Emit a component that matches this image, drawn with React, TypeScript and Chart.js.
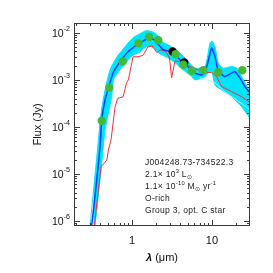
import React, { useEffect, useRef } from "react";
import { Chart, registerables } from "chart.js";

Chart.register(...registerables);

// ---- axis ranges ----
const X_MIN = 0.188;
const X_MAX = 29.9;
const Y_MIN = 7.8e-7;
const Y_MAX = 1.61e-2;

// ---- best-fit model (blue) ----
const bestLambda = [0.3, 0.313, 0.362, 0.398, 0.418, 0.46, 0.506, 0.579, 0.708, 0.891, 1.122, 1.296, 1.527, 1.763, 1.94, 2.239, 2.461, 2.985, 3.62, 4.38, 5.57, 6.13, 7.44, 8.18, 8.84, 9.91, 10.9, 12.0, 14.5, 17.6, 19.4, 22.4, 25.9, 29.9];
const bestFlux = [4.2e-7, 8.05e-7, 7.35e-6, 3.77e-5, 1.4e-4, 3.73e-4, 6.62e-4, 1.4e-3, 2.41e-3, 3.94e-3, 5.41e-3, 6.27e-3, 7.34e-3, 7.44e-3, 6.86e-3, 5.1e-3, 4.35e-3, 3.99e-3, 3.13e-3, 2.26e-3, 1.63e-3, 1.38e-3, 1.27e-3, 1.43e-3, 2.26e-3, 4.72e-3, 3.13e-3, 1.5e-3, 1.17e-3, 1.38e-3, 1.5e-3, 1.08e-3, 7.16e-4, 5.18e-4];

// ---- family of acceptable models (cyan band envelope) ----
const bandUpperLambda = [0.285, 0.299, 0.373, 0.41, 0.46, 0.531, 0.649, 0.818, 1.029, 1.259, 1.496, 1.778, 2.054, 2.371, 2.985, 3.65, 4.6, 6.13, 8.18, 9.44, 10.0, 10.9, 12.0, 13.8, 17.6, 20.4, 23.5, 29.9];
const bandUpperFlux = [4e-7, 8.05e-7, 3.77e-5, 1.97e-4, 6.1e-4, 1.63e-3, 3.08e-3, 5.03e-3, 7.82e-3, 9.53e-3, 1.1e-2, 1.05e-2, 9.06e-3, 6.43e-3, 5.28e-3, 4.13e-3, 2.93e-3, 1.77e-3, 1.91e-3, 6.03e-3, 6.59e-3, 5.1e-3, 2.26e-3, 1.77e-3, 1.91e-3, 1.77e-3, 1.17e-3, 5.6e-4];
const bandLowerLambda = [0.33, 0.345, 0.418, 0.46, 0.557, 0.584, 0.708, 0.818, 1.0, 1.259, 1.54, 1.83, 2.239, 2.818, 3.45, 4.34, 5.47, 6.13, 8.18, 9.18, 10.0, 10.9, 13.2, 17.6, 23.5, 29.9];
const bandLowerFlux = [4e-7, 8.05e-7, 1.67e-5, 8.55e-5, 4.38e-4, 9.95e-4, 1.63e-3, 2.18e-3, 3.24e-3, 3.94e-3, 5.15e-3, 4.91e-3, 3.56e-3, 2.93e-3, 2.29e-3, 1.63e-3, 1.21e-3, 9.95e-4, 1.17e-3, 1.47e-3, 1.47e-3, 7.78e-4, 6.1e-4, 4.38e-4, 2.68e-4, 1.52e-4];
const faintLambda = [7.08, 10.9, 14.5, 19.4, 25.9, 29.9];
const faintFlux = [1.1e-3, 8.59e-4, 5.52e-4, 3.92e-4, 2.78e-4, 2.28e-4];

// ---- naked photosphere (red) ----
const photLambda = [0.338, 0.379, 0.41, 0.483, 0.506, 0.546, 0.613, 0.663, 0.772, 0.854, 0.899, 1.029, 1.189, 1.372, 1.585, 1.778, 2.054, 2.239, 2.661, 2.94, 3.13, 3.45, 3.98, 5.31, 6.68, 8.66, 9.91, 11.45, 13.2, 17.6, 23.5, 29.9];
const photFlux = [7.7e-7, 4.49e-6, 1.41e-5, 1.96e-5, 3.2e-5, 5.24e-5, 2.64e-4, 4.06e-4, 4.32e-4, 8.59e-4, 9.95e-4, 3.08e-3, 3.08e-3, 3.31e-3, 5.03e-3, 5.28e-3, 3.75e-3, 4.35e-3, 3.94e-3, 2.93e-3, 1.1e-3, 2.53e-3, 2.41e-3, 1.93e-3, 1.63e-3, 1.44e-3, 1.43e-3, 1.17e-3, 7.16e-4, 5.6e-4, 4.38e-4, 3.27e-4];

// ---- photometry ----
const obsLambda = [0.418, 0.52, 0.765, 1.2, 1.63, 2.13, 3.52, 4.38, 5.62, 7.78, 12.0, 23.9];
const obsFlux = [1.35e-4, 6.8e-4, 2.44e-3, 6.0e-3, 8.1e-3, 6.9e-3, 3.5e-3, 2.08e-3, 1.55e-3, 1.6e-3, 1.45e-3, 1.6e-3];
const extraLambda = [3.22, 4.5];
const extraFlux = [4.0e-3, 2.33e-3];

// ---- ticks & text ----
const xTickLabels = [1, 10];
const yTickExponents = [-6, -5, -4, -3, -2];
const minorMantissas = [2, 3, 4, 5, 6, 7, 8, 9];
const xTitle = ["λ", " (μm)"];
const yTitle = "Flux (Jy)";
type Part = { t: string; k: "n" | "sup" | "sub" };
const infoLines: Part[][] = [
  [{ t: "J004248.73-734522.3", k: "n" }],
  [{ t: "2.1× 10", k: "n" }, { t: "3", k: "sup" }, { t: " L", k: "n" }, { t: "⊙", k: "sub" }],
  [{ t: "1.1× 10", k: "n" }, { t: "-10", k: "sup" }, { t: " M", k: "n" }, { t: "⊙", k: "sub" }, { t: " yr", k: "n" }, { t: "-1", k: "sup" }],
  [{ t: "O-rich", k: "n" }],
  [{ t: "Group 3, opt. C star", k: "n" }],
];

const CYAN = "rgb(0,228,252)";
const FAINT = "rgb(175,248,255)";
const BLUE = "rgb(10,60,255)";
const RED = "rgb(255,45,45)";
const GREEN = "rgb(68,185,55)";
const FONT = "'Liberation Sans', Arial, sans-serif";

const pts = (xs: number[], ys: number[]) => xs.map((x, i) => ({ x, y: ys[i] }));

function richWidth(ctx: CanvasRenderingContext2D, parts: Part[], size: number) {
  let w = 0;
  for (const p of parts) {
    const fs = p.k === "n" ? size : size * 0.68;
    ctx.font = `${fs}px ${FONT}`;
    w += ctx.measureText(p.t).width;
  }
  return w;
}

function drawRich(ctx: CanvasRenderingContext2D, parts: Part[], x: number, y: number, size: number) {
  let cx = x;
  for (const p of parts) {
    const fs = p.k === "n" ? size : size * 0.68;
    const dy = p.k === "sup" ? -size * 0.42 : p.k === "sub" ? size * 0.28 : 0;
    ctx.font = `${fs}px ${FONT}`;
    ctx.fillText(p.t, cx, y + dy);
    cx += ctx.measureText(p.t).width;
  }
}

const decor = {
  id: "decor",
  afterDraw(chart: any) {
    const { ctx, chartArea: a, scales } = chart;
    const xs = scales.x;
    const ys = scales.y;
    ctx.save();
    // frame
    ctx.strokeStyle = "#3a3a3a";
    ctx.lineWidth = 1;
    ctx.strokeRect(a.left + 0.5, a.top + 0.5, a.right - a.left - 1, a.bottom - a.top - 1);

    const majorLen = 6;
    const minorLen = 3;
    ctx.beginPath();
    // y ticks
    for (let e = -7; e <= -1; e++) {
      for (const m of [1, ...minorMantissas]) {
        const v = m * Math.pow(10, e);
        if (v < Y_MIN || v > Y_MAX) continue;
        const py = Math.round(ys.getPixelForValue(v)) + 0.5;
        const len = m === 1 ? majorLen : minorLen;
        ctx.moveTo(a.left, py);
        ctx.lineTo(a.left + len, py);
        ctx.moveTo(a.right, py);
        ctx.lineTo(a.right - len, py);
      }
    }
    // x ticks
    for (let e = -1; e <= 1; e++) {
      for (const m of [1, ...minorMantissas]) {
        const v = m * Math.pow(10, e);
        if (v < X_MIN || v > X_MAX) continue;
        const px = Math.round(xs.getPixelForValue(v)) + 0.5;
        const len = m === 1 ? majorLen : minorLen;
        ctx.moveTo(px, a.bottom);
        ctx.lineTo(px, a.bottom - len);
        ctx.moveTo(px, a.top);
        ctx.lineTo(px, a.top + len);
      }
    }
    ctx.stroke();

    ctx.fillStyle = "#111";
    // y tick labels
    ctx.textBaseline = "middle";
    ctx.textAlign = "left";
    for (const e of yTickExponents) {
      const parts: Part[] = [{ t: "10", k: "n" }, { t: String(e), k: "sup" }];
      const w = richWidth(ctx, parts, 10.5);
      const py = ys.getPixelForValue(Math.pow(10, e));
      drawRich(ctx, parts, a.left - 4 - w, py + 1, 10.5);
    }
    // x tick labels
    ctx.textAlign = "center";
    ctx.font = `11px ${FONT}`;
    for (const v of xTickLabels) {
      ctx.fillText(String(v), xs.getPixelForValue(v), a.bottom + 15);
    }
    // x title
    ctx.textAlign = "left";
    const cxT = (a.left + a.right) / 2;
    ctx.font = `italic bold 11px ${FONT}`;
    const w1 = ctx.measureText(xTitle[0]).width;
    ctx.font = `11px ${FONT}`;
    const w2 = ctx.measureText(xTitle[1]).width;
    const x0 = cxT - (w1 + w2) / 2;
    ctx.font = `italic bold 11px ${FONT}`;
    ctx.fillText(xTitle[0], x0, a.bottom + 32);
    ctx.font = `11px ${FONT}`;
    ctx.fillText(xTitle[1], x0 + w1, a.bottom + 32);
    // y title
    ctx.save();
    ctx.translate(38, (a.top + a.bottom) / 2);
    ctx.rotate(-Math.PI / 2);
    ctx.textAlign = "center";
    ctx.font = `11px ${FONT}`;
    ctx.fillText(yTitle, 0, 0);
    ctx.restore();
    // info block
    ctx.textAlign = "left";
    (ctx as any).letterSpacing = "0.3px";
    ctx.fillStyle = "#222";
    infoLines.forEach((line, i) => {
      drawRich(ctx, line, 145, 163 + i * 12, 8.5);
    });
    (ctx as any).letterSpacing = "0px";
    ctx.restore();
  },
};

export default function App() {
  const ref = useRef<HTMLCanvasElement>(null);
  useEffect(() => {
    document.body.style.margin = "0";
    const chart = new Chart(ref.current as HTMLCanvasElement, {
      type: "line",
      data: {
        datasets: [
          {
            data: pts(bandUpperLambda, bandUpperFlux),
            borderColor: CYAN,
            backgroundColor: CYAN,
            borderWidth: 1,
            fill: "+1",
            pointRadius: 0,
            tension: 0.2,
            order: 10,
          } as any,
          {
            data: pts(bandLowerLambda, bandLowerFlux),
            borderColor: CYAN,
            borderWidth: 1,
            fill: false,
            pointRadius: 0,
            tension: 0.2,
            order: 9,
          },
          {
            data: pts(faintLambda, faintFlux),
            borderColor: FAINT,
            borderWidth: 1,
            fill: false,
            pointRadius: 0,
            tension: 0.2,
            order: 8,
          },
          {
            data: pts(photLambda, photFlux),
            borderColor: RED,
            borderWidth: 1,
            fill: false,
            pointRadius: 0,
            order: 5,
          },
          {
            data: pts(bestLambda, bestFlux),
            borderColor: BLUE,
            borderWidth: 1.5,
            fill: false,
            pointRadius: 0,
            tension: 0.15,
            order: 4,
          },
          {
            data: pts(extraLambda, extraFlux),
            showLine: false,
            pointRadius: 4.2,
            pointBackgroundColor: "#000",
            pointBorderWidth: 0,
            order: 3,
          },
          {
            data: pts(obsLambda, obsFlux),
            showLine: false,
            pointRadius: 4.2,
            pointBackgroundColor: GREEN,
            pointBorderWidth: 0,
            order: 2,
          },
        ],
      },
      options: {
        animation: false,
        responsive: false,
        devicePixelRatio: 1,
        layout: { padding: { left: 74, top: 23, right: 23, bottom: 47 } },
        scales: {
          x: { type: "logarithmic", min: X_MIN, max: X_MAX, display: false },
          y: { type: "logarithmic", min: Y_MIN, max: Y_MAX, display: false },
        },
        plugins: { legend: { display: false }, tooltip: { enabled: false } },
      },
      plugins: [decor],
    } as any);
    return () => chart.destroy();
  }, []);
  return (
    <div style={{ width: 273, height: 273 }}>
      <canvas ref={ref} width={273} height={273} style={{ display: "block" }} />
    </div>
  );
}
